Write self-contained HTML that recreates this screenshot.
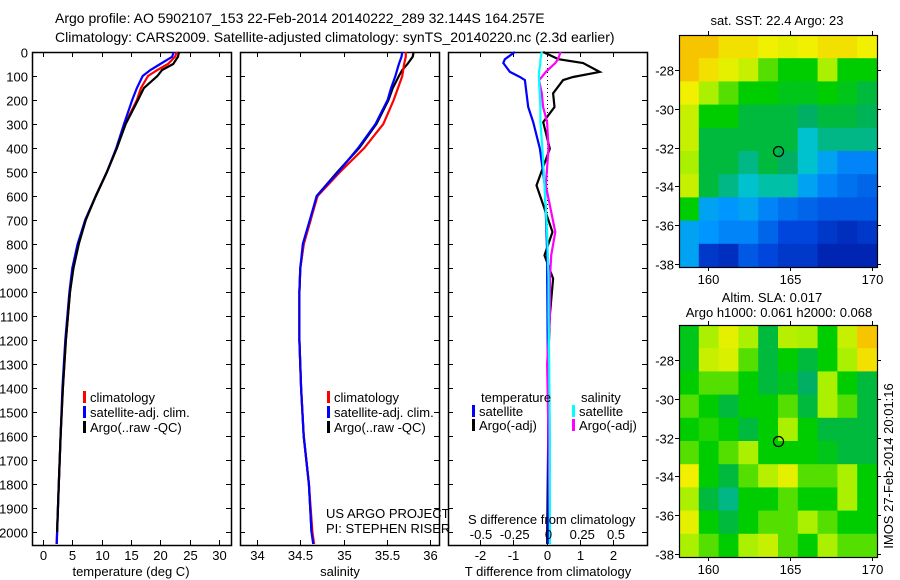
<!DOCTYPE html>
<html><head><meta charset="utf-8"><style>
body{margin:0;background:#fff;}
svg{display:block;font-family:"Liberation Sans",sans-serif;}
text{font-size:13px;fill:#000;}
</style></head><body>
<svg id="c" width="900" height="580" viewBox="0 0 900 580"></svg>
<script>
// ---- data ----
const depths=[0,20,50,75,100,150,200,300,400,500,600,700,800,900,1000,1200,1400,1600,1800,2000,2050];
const tempClim=[22.8,22.5,21.3,19.5,17.9,16.7,16.0,14.0,12.6,10.9,9.0,7.2,6.0,5.1,4.6,3.9,3.4,3.0,2.7,2.4,2.3];
const tempSat=[22.3,22.0,20.0,18.3,17.0,16.0,15.2,13.8,12.5,10.9,9.0,7.2,5.9,5.0,4.5,3.8,3.3,3.0,2.7,2.4,2.35];
const tempArgo=[23.2,23.0,22.2,20.3,19.5,17.2,16.2,14.1,12.6,10.9,9.0,7.3,6.1,5.2,4.6,3.9,3.4,3.0,2.7,2.4,2.4];
const salClim=[35.72,35.72,35.70,35.69,35.68,35.63,35.58,35.46,35.24,34.96,34.70,34.62,34.54,34.50,34.49,34.49,34.51,34.54,34.60,34.64,34.66];
const salSat=[35.68,35.67,35.64,35.62,35.60,35.55,35.51,35.37,35.17,34.94,34.69,34.61,34.53,34.50,34.49,34.49,34.51,34.54,34.60,34.63,34.65];
const salArgo=[35.81,35.80,35.74,35.68,35.64,35.57,35.52,35.38,35.18,34.93,34.69,34.62,34.54,34.50,34.49,34.49,34.51,34.54,34.60,34.63,34.64];
const diffDepths=[0,30,46,83,104,117,172,229,292,403,556,750,847,944,1100,1300,1600,2000,2050];
const dTsat=[-0.95,-1.25,-1.3,-1.1,-0.8,-0.65,-0.6,-0.55,-0.4,-0.2,-0.05,0,0.02,0.02,0.03,0.04,0.05,0.05,0.05];
const dTargo=[-0.1,0.36,1.1,1.6,0.8,0.5,0.2,0.24,-0.1,0.1,-0.3,0.18,-0.06,0.2,0.1,0.05,0.05,0.02,0.02];
const dSsat=[-0.05,-0.06,-0.06,-0.07,-0.07,-0.07,-0.065,-0.06,-0.06,-0.045,-0.03,-0.01,-0.005,0,0,0.005,0.01,0.01,0.01];
const dSargo=[0.09,0.07,0.05,-0.02,-0.05,-0.07,-0.05,-0.04,-0.01,0,-0.02,0.05,0.02,0.01,0.01,-0.01,0,0.01,0.01];
const depthTicks=[0,100,200,300,400,500,600,700,800,900,1000,1100,1200,1300,1400,1500,1600,1700,1800,1900,2000];
const tempTicks=[0,5,10,15,20,25,30];
const salTicks=[34,34.5,35,35.5,36];
const dTTicks=[-2,-1,0,1,2];
const dSTicks=[-0.5,-0.25,0,0.25,0.5];
const dSTickLabels=["-0.5","-0.25","0","0.25","0.5"];
const lonTicks=[160,165,170];
const latTicks=[-28,-30,-32,-34,-36,-38];
const sstGrid=[
[0.8,0.8,0.75,0.75,0.72,0.7,0.72,0.75,0.75,0.72],
[0.8,0.75,0.7,0.65,0.55,0.5,0.5,0.6,0.5,0.5],
[0.72,0.6,0.55,0.5,0.5,0.48,0.48,0.5,0.48,0.45],
[0.65,0.5,0.5,0.45,0.45,0.45,0.42,0.45,0.45,0.43],
[0.65,0.45,0.45,0.45,0.45,0.45,0.35,0.4,0.4,0.4],
[0.6,0.45,0.45,0.4,0.45,0.42,0.35,0.3,0.25,0.25],
[0.65,0.45,0.4,0.35,0.38,0.38,0.3,0.25,0.22,0.2],
[0.5,0.3,0.28,0.3,0.25,0.22,0.2,0.18,0.18,0.18],
[0.3,0.28,0.25,0.25,0.2,0.15,0.15,0.12,0.1,0.12],
[0.3,0.12,0.1,0.18,0.15,0.12,0.12,0.08,0.08,0.08]];
const slaGrid=[
[0.48,0.6,0.7,0.6,0.45,0.62,0.6,0.5,0.65,0.8],
[0.48,0.65,0.68,0.55,0.45,0.5,0.45,0.5,0.6,0.75],
[0.5,0.55,0.55,0.5,0.45,0.48,0.42,0.6,0.5,0.45],
[0.55,0.5,0.45,0.5,0.5,0.55,0.45,0.6,0.55,0.45],
[0.5,0.52,0.5,0.45,0.5,0.6,0.5,0.45,0.45,0.45],
[0.55,0.5,0.55,0.6,0.5,0.5,0.5,0.48,0.45,0.45],
[0.72,0.5,0.45,0.55,0.62,0.7,0.55,0.55,0.6,0.5],
[0.6,0.45,0.4,0.5,0.5,0.55,0.5,0.5,0.6,0.5],
[0.7,0.5,0.45,0.5,0.55,0.55,0.6,0.55,0.5,0.5],
[0.6,0.55,0.5,0.6,0.65,0.55,0.5,0.6,0.55,0.55]];
const argoPos=[164.3,-32.2];

const svg=document.getElementById('c');
const NS='http://www.w3.org/2000/svg';
function mk(tag,attrs,parent){const e=document.createElementNS(NS,tag);for(const k in attrs)e.setAttribute(k,attrs[k]);(parent||svg).appendChild(e);return e;}
function txt(x,y,s,anchor,parent){const t=mk('text',{x:x,y:y,'text-anchor':anchor||'start'},parent);t.textContent=s;return t;}

const TOP=52,BOT=545;
const yD=d=>TOP+d*0.24;
function lin(d0,d1,p0,p1){return v=>p0+(v-d0)*(p1-p0)/(d1-d0);}

// titles
let t1=txt(55,23,'Argo profile: AO 5902107_153 22-Feb-2014 20140222_289 32.144S 164.257E');t1.setAttribute('style','font-size:14px');

let t2=txt(55,42,'Climatology: CARS2009. Satellite-adjusted climatology: synTS_20140220.nc (2.3d earlier)');t2.setAttribute('style','font-size:14px');


function panel(name,x0,x1,xs,ticks,labels,yLabels){
  const g=mk('g',{});
  
  
  mk('rect',{x:x0+0.5,y:TOP+0.5,width:x1-x0,height:BOT-TOP,fill:'none',stroke:'#000','stroke-width':1.5},g);
  depthTicks.forEach(d=>{const y=Math.round(yD(d))+0.5;
    mk('line',{x1:x0,x2:x0+5,y1:y,y2:y,stroke:'#000'},g);
    mk('line',{x1:x1-5,x2:x1,y1:y,y2:y,stroke:'#000'},g);
    if(yLabels){const l=txt(x0-4,y+5,String(d),'end',g);}
  });
  ticks.forEach((v,i)=>{const x=Math.round(xs(v))+0.5;
    mk('line',{x1:x,x2:x,y1:TOP,y2:TOP+5,stroke:'#000'},g);
    mk('line',{x1:x,x2:x,y1:BOT-5,y2:BOT,stroke:'#000'},g);
    if(labels){const l=txt(x,BOT+15,labels[i],'middle',g);}
  });
  return g;
}
function series(g,name,xs,vals,ds,color,dash){
  const pts=vals.map((v,i)=>xs(v).toFixed(1)+','+yD(ds[i]).toFixed(1)).join(' ');
  const p=mk('polyline',{points:pts,fill:'none',stroke:color,'stroke-width':2.2},g);
  if(dash)p.setAttribute('stroke-dasharray',dash);
  
  
}
function legend(g,x,y,color,label){
  const b=mk('rect',{x:x,y:y-11,width:3,height:12,fill:color},g);
  
  
  const l=txt(x+7,y,label,'start',g);
  
  
}

// panel 1 temperature
const xT=lin(0,30,43,219);
const g1=panel('temperature-panel',32,231,xT,tempTicks,tempTicks.map(String),true);
series(g1,'temp-climatology-line',xT,tempClim,depths,'#f00');
series(g1,'temp-satellite-line',xT,tempSat,depths,'#00f');
series(g1,'temp-argo-line',xT,tempArgo.slice(0,20),depths.slice(0,20),'#000');
legend(g1,83,402,'#f00','climatology');
legend(g1,83,417,'#00f','satellite-adj. clim.');
legend(g1,83,432,'#000','Argo(..raw -QC)');
let xl=txt(131,576,'temperature (deg C)','middle');

// panel 2 salinity
const xS=lin(34,36,257,430);
const g2=panel('salinity-panel',240,439,xS,salTicks,salTicks.map(String),false);
series(g2,'sal-argo-line',xS,salArgo.slice(0,20),depths.slice(0,20),'#000');
series(g2,'sal-climatology-line',xS,salClim,depths,'#f00');
series(g2,'sal-satellite-line',xS,salSat,depths,'#00f');
legend(g2,327,402,'#f00','climatology');
legend(g2,327,417,'#00f','satellite-adj. clim.');
legend(g2,327,432,'#000','Argo(..raw -QC)');
let a1=txt(326,518,'US ARGO PROJECT','start',g2);
let a2=txt(326,533,'PI: STEPHEN RISER','start',g2);
xl=txt(340,576,'salinity','middle');

// panel 3 differences
const xDT=lin(-2,2,480,613);
const xDS=lin(-0.5,0.5,481,616);
const g3=panel('difference-panel',448,647,xDT,dTTicks,dTTicks.map(String),false);
const zx=Math.round(xDT(0))+0.5;
let zl=mk('line',{x1:zx,x2:zx,y1:TOP,y2:yD(1000),stroke:'#000','stroke-dasharray':'1,3'},g3);

series(g3,'dT-argo-line',xDT,dTargo,diffDepths,'#000');
series(g3,'dT-satellite-line',xDT,dTsat,diffDepths,'#00f');
series(g3,'dS-argo-line',xDS,dSargo,diffDepths,'#f0f');
series(g3,'dS-satellite-line',xDS,dSsat,diffDepths,'#0ff');
let lt=txt(481,402,'temperature','start',g3);
let ls=txt(581,402,'salinity','start',g3);
legend(g3,472,416,'#00f','satellite');
legend(g3,472,430,'#000','Argo(-adj)');
legend(g3,572,416,'#0ff','satellite');
legend(g3,572,430,'#f0f','Argo(-adj)');
let sdt=txt(468,524,'S difference from climatology','start',g3);
dSTicks.forEach((v,i)=>{const l=txt(xDS(v),539,dSTickLabels[i],'middle',g3);});
xl=txt(548,576,'T difference from climatology','middle');

// maps
const stops=[[0,0,0,130],[0.15,0,70,220],[0.28,0,150,255],[0.36,0,200,200],[0.42,0,175,100],[0.5,0,205,0],[0.6,170,240,0],[0.72,240,240,0],[0.85,250,170,0],[1,250,120,0]];
function cmap(v){for(let i=1;i<stops.length;i++){if(v<=stops[i][0]){const a=stops[i-1],b=stops[i],f=(v-a[0])/(b[0]-a[0]);return 'rgb('+[1,2,3].map(k=>Math.round(a[k]+f*(b[k]-a[k]))).join(',')+')';}}return 'rgb(250,120,0)';}
const lonX=lin(160,170,708,872);
function drawMap(name,top,grid){
  const g=mk('g',{});
  
  
  const L=679,R=877,B=top+232,latY=lin(-28,-38,top+35,top+229);
  const nr=grid.length,nc=grid[0].length,cw=(R-L)/nc,ch=(B-top)/nr;
  grid.forEach((row,r)=>row.forEach((v,c)=>{
    const cell=mk('rect',{x:(L+c*cw).toFixed(1),y:(top+r*ch).toFixed(1),width:(cw+0.6).toFixed(1),height:(ch+0.6).toFixed(1),fill:cmap(v)},g);
    
    
  }));
  mk('rect',{x:L+0.5,y:top+0.5,width:R-L,height:B-top,fill:'none',stroke:'#000','stroke-width':1.2},g);
  lonTicks.forEach(v=>{const x=Math.round(lonX(v))+0.5;mk('line',{x1:x,x2:x,y1:top-4,y2:top,stroke:'#000'},g);mk('line',{x1:x,x2:x,y1:B,y2:B+4,stroke:'#000'},g);
    const l=txt(x,B+17,String(v),'middle',g);});
  latTicks.forEach(v=>{const y=Math.round(latY(v))+0.5;mk('line',{x1:L-4,x2:L,y1:y,y2:y,stroke:'#000'},g);mk('line',{x1:R,x2:R+4,y1:y,y2:y,stroke:'#000'},g);
    const l=txt(L-5,y+5,String(v),'end',g);});
  const c=mk('circle',{cx:lonX(argoPos[0]),cy:latY(argoPos[1]),r:5,fill:'none',stroke:'#000','stroke-width':1.2},g);
  
  
}
drawMap('sst-map',35,sstGrid);
drawMap('sla-map',325,slaGrid);
let m1=txt(777,25,'sat. SST: 22.4 Argo: 23','middle');
let m2=txt(772,302,'Altim. SLA: 0.017','middle');
let m3=txt(779,317,'Argo h1000: 0.061 h2000: 0.068','middle');
let rt=txt(0,0,'IMOS 27-Feb-2014 20:01:16','middle');rt.setAttribute('transform','translate(893,466) rotate(-90)');

</script>
</body></html>
